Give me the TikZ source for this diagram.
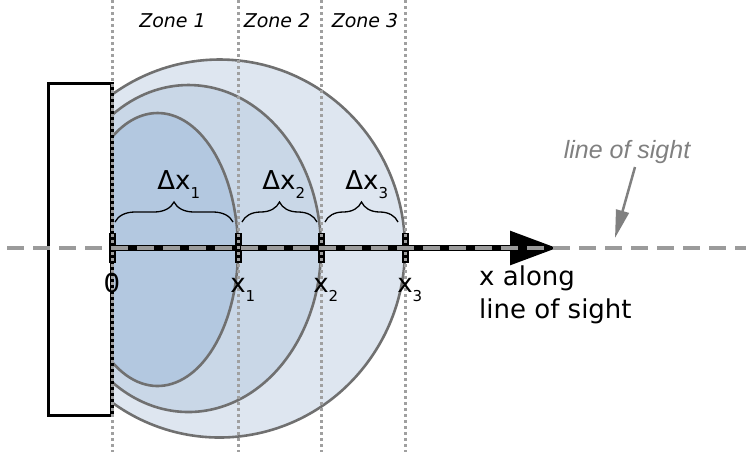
\documentclass[tikz,border=0pt]{standalone}
\usepackage{fontspec}
\setmainfont{DejaVu Sans}
\newfontfamily\losfont{Liberation Sans}
\usetikzlibrary{arrows.meta,decorations.pathreplacing}
\definecolor{innerc}{RGB}{179,200,224}
\definecolor{midc}{RGB}{201,215,231}
\definecolor{outerc}{RGB}{222,230,240}
\definecolor{edgec}{RGB}{112,112,112}
\definecolor{dotc}{RGB}{160,160,160}
\definecolor{dashc}{RGB}{155,155,155}
\definecolor{losc}{RGB}{128,128,128}
\newcommand{\subs}[1]{\rlap{\raisebox{-9pt}{\fontsize{15}{15}\selectfont #1}}}
% half shell: #1 cx, #2 cy, #3 rx, #4 ry, #5 fill colour
\newcommand{\halfshell}[5]{%
  \pgfmathsetmacro{\ta}{acos((112-#1)/#3)}%
  \pgfmathsetmacro{\ya}{#2+#4*sin(\ta)}%
  \pgfmathsetmacro{\yb}{#2-#4*sin(\ta)}%
  \fill[#5] (112,\ya) arc[start angle=\ta, end angle=-\ta, x radius=#3, y radius=#4] -- cycle;
  \draw[shell] (112,\ya) arc[start angle=\ta, end angle=-\ta, x radius=#3, y radius=#4];
}
\tikzset{
  shell/.style={draw=edgec, line width=2.6pt},
  zoneline/.style={draw=dotc, line width=3pt, dash pattern=on 3pt off 3pt},
  tickmark/.style={draw=black, line width=7pt},
  bracestyle/.style={draw=black, line width=1.3pt, decorate, decoration={brace, amplitude=20pt, aspect=0.5}},
  zonelabel/.style={font=\fontsize{19}{19}\selectfont\itshape, anchor=base, inner sep=0pt},
  dlabel/.style={font=\fontsize{26}{26}\selectfont, anchor=base, inner sep=0pt},
  axlabel/.style={font=\fontsize{26}{26}\selectfont, anchor=base, inner sep=0pt},
}
\begin{document}
\begin{tikzpicture}[x=1pt,y=-1pt]
\useasboundingbox (0,0) rectangle (746,459);
% coordinates
\coordinate (o) at (112,248);
\coordinate (x1) at (238,248);
\coordinate (x2) at (321,248);
\coordinate (x3) at (405,248);
\coordinate (tip) at (557,248);
\coordinate (losL) at (7,248);
\coordinate (losR) at (746,248);
\coordinate (losA) at (635,167);
\coordinate (losB) at (615,238);
% shells
\halfshell{219.6}{248.5}{185.4}{189}{outerc}
\halfshell{188.5}{248.5}{132.5}{163.5}{midc}
\halfshell{157.6}{249.5}{80.4}{136.5}{innerc}
% wall
\draw[line width=3pt] (112,83) -- (48,83) -- (48,415) -- (112,415);
\draw[line width=4pt] (112,81.5) -- (112,416.5);
% axis
\draw[line width=6pt, -{Triangle[length=47pt,width=33pt]}] (o) -- (tip);
\foreach \p in {o,x1,x2,x3} \draw[tickmark] ([yshift=-15pt]\p) -- ([yshift=15pt]\p);
% zone lines
\foreach \xx in {112,238,321,405} \draw[zoneline] (\xx,0) -- (\xx,452);
% line of sight
\draw[draw=dashc, line width=3.5pt, dash pattern=on 17pt off 9pt] (losL) -- (losR);
\node[font=\losfont\fontsize{25}{25}\selectfont\itshape, text=losc, anchor=base, inner sep=0pt] (los) at (627,158) {line of sight};
\draw[draw=losc, line width=2.5pt, -{Triangle[length=28pt,width=13pt]}] (losA) -- (losB);
% braces
\draw[bracestyle] (115,222) -- (233,222);
\draw[bracestyle] (242,222) -- (317,222);
\draw[bracestyle] (325,222) -- (398,222);
\node[dlabel] (d1) at (174,189) {Δx\subs{1}};
\node[dlabel] (d2) at (279,189) {Δx\subs{2}};
\node[dlabel] (d3) at (362,189) {Δx\subs{3}};
% zone labels
\node[zonelabel] (z1) at (172.5,27) {Zone 1};
\node[zonelabel] (z2) at (277,27) {Zone 2};
\node[zonelabel] (z3) at (365,27) {Zone 3};
% axis labels
\node[axlabel] (l0) at (112,292) {0};
\node[axlabel] (l1) at (238,292) {x\subs{1}};
\node[axlabel] (l2) at (321,292) {x\subs{2}};
\node[axlabel] (l3) at (405,292) {x\subs{3}};
\node[font=\fontsize{26}{33}\selectfont, anchor=base west, align=left, inner sep=0pt] (xl) at (479,318) {x along\\line of sight};
\end{tikzpicture}
\end{document}
